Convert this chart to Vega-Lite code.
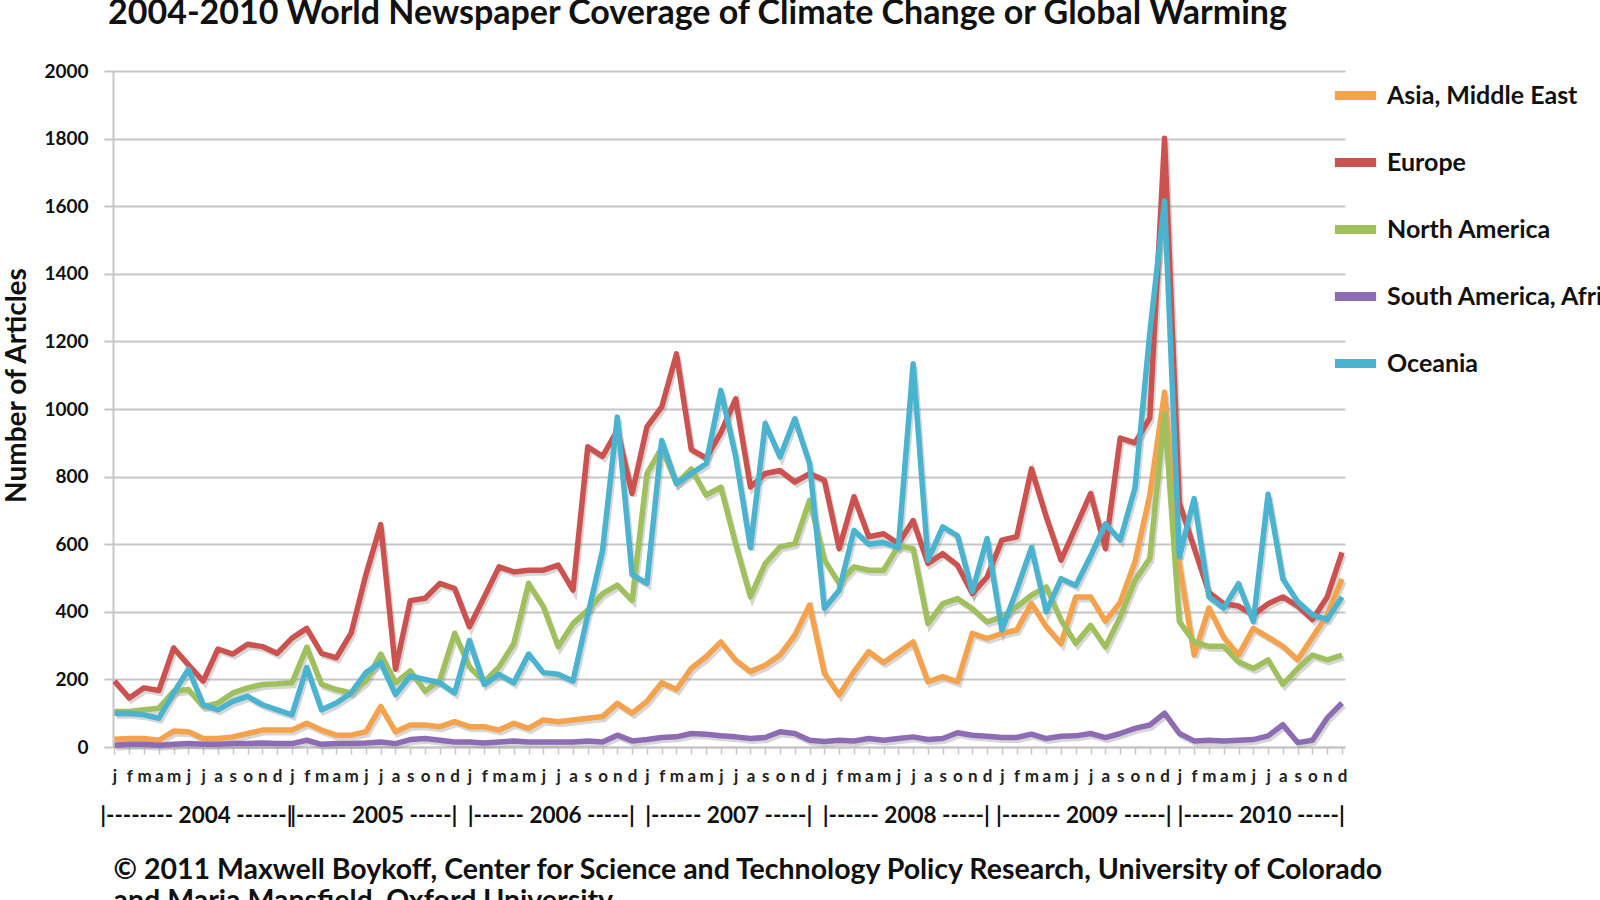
{
"$schema": "https://vega.github.io/schema/vega-lite/v6.json",
"width": 1232, "height": 676,
"autosize": {"type": "none"},
"padding": {"left": 113, "top": 71, "right": 255, "bottom": 153},
"background": "white",
"title": {"text": "2004-2010 World Newspaper Coverage of Climate Change or Global Warming", "anchor": "start", "font": "Lato", "fontSize": 34, "fontWeight": "bold", "color": "#111111", "offset": 31, "dx": 105},
"config": {"view": {"stroke": null}, "font": "Lato"},
"data": {"values": [
{"region":"Asia, Middle East","month":0,"articles":23},{"region":"Asia, Middle East","month":1,"articles":25},{"region":"Asia, Middle East","month":2,"articles":25},{"region":"Asia, Middle East","month":3,"articles":20},{"region":"Asia, Middle East","month":4,"articles":47},{"region":"Asia, Middle East","month":5,"articles":45},{"region":"Asia, Middle East","month":6,"articles":25},{"region":"Asia, Middle East","month":7,"articles":25},{"region":"Asia, Middle East","month":8,"articles":30},{"region":"Asia, Middle East","month":9,"articles":40},{"region":"Asia, Middle East","month":10,"articles":50},{"region":"Asia, Middle East","month":11,"articles":50},
{"region":"Asia, Middle East","month":12,"articles":50},{"region":"Asia, Middle East","month":13,"articles":70},{"region":"Asia, Middle East","month":14,"articles":50},{"region":"Asia, Middle East","month":15,"articles":35},{"region":"Asia, Middle East","month":16,"articles":35},{"region":"Asia, Middle East","month":17,"articles":45},{"region":"Asia, Middle East","month":18,"articles":120},{"region":"Asia, Middle East","month":19,"articles":45},{"region":"Asia, Middle East","month":20,"articles":65},{"region":"Asia, Middle East","month":21,"articles":65},{"region":"Asia, Middle East","month":22,"articles":60},{"region":"Asia, Middle East","month":23,"articles":75},
{"region":"Asia, Middle East","month":24,"articles":60},{"region":"Asia, Middle East","month":25,"articles":60},{"region":"Asia, Middle East","month":26,"articles":50},{"region":"Asia, Middle East","month":27,"articles":70},{"region":"Asia, Middle East","month":28,"articles":55},{"region":"Asia, Middle East","month":29,"articles":80},{"region":"Asia, Middle East","month":30,"articles":75},{"region":"Asia, Middle East","month":31,"articles":80},{"region":"Asia, Middle East","month":32,"articles":85},{"region":"Asia, Middle East","month":33,"articles":90},{"region":"Asia, Middle East","month":34,"articles":129},{"region":"Asia, Middle East","month":35,"articles":100},
{"region":"Asia, Middle East","month":36,"articles":135},{"region":"Asia, Middle East","month":37,"articles":190},{"region":"Asia, Middle East","month":38,"articles":170},{"region":"Asia, Middle East","month":39,"articles":233},{"region":"Asia, Middle East","month":40,"articles":267},{"region":"Asia, Middle East","month":41,"articles":311},{"region":"Asia, Middle East","month":42,"articles":257},{"region":"Asia, Middle East","month":43,"articles":223},{"region":"Asia, Middle East","month":44,"articles":242},{"region":"Asia, Middle East","month":45,"articles":272},{"region":"Asia, Middle East","month":46,"articles":331},{"region":"Asia, Middle East","month":47,"articles":420},
{"region":"Asia, Middle East","month":48,"articles":218},{"region":"Asia, Middle East","month":49,"articles":154},{"region":"Asia, Middle East","month":50,"articles":223},{"region":"Asia, Middle East","month":51,"articles":282},{"region":"Asia, Middle East","month":52,"articles":250},{"region":"Asia, Middle East","month":53,"articles":280},{"region":"Asia, Middle East","month":54,"articles":311},{"region":"Asia, Middle East","month":55,"articles":193},{"region":"Asia, Middle East","month":56,"articles":208},{"region":"Asia, Middle East","month":57,"articles":193},{"region":"Asia, Middle East","month":58,"articles":336},{"region":"Asia, Middle East","month":59,"articles":321},
{"region":"Asia, Middle East","month":60,"articles":336},{"region":"Asia, Middle East","month":61,"articles":346},{"region":"Asia, Middle East","month":62,"articles":425},{"region":"Asia, Middle East","month":63,"articles":356},{"region":"Asia, Middle East","month":64,"articles":306},{"region":"Asia, Middle East","month":65,"articles":444},{"region":"Asia, Middle East","month":66,"articles":444},{"region":"Asia, Middle East","month":67,"articles":372},{"region":"Asia, Middle East","month":68,"articles":428},{"region":"Asia, Middle East","month":69,"articles":548},{"region":"Asia, Middle East","month":70,"articles":745},{"region":"Asia, Middle East","month":71,"articles":1050},
{"region":"Asia, Middle East","month":72,"articles":540},{"region":"Asia, Middle East","month":73,"articles":272},{"region":"Asia, Middle East","month":74,"articles":411},{"region":"Asia, Middle East","month":75,"articles":325},{"region":"Asia, Middle East","month":76,"articles":272},{"region":"Asia, Middle East","month":77,"articles":351},{"region":"Asia, Middle East","month":78,"articles":325},{"region":"Asia, Middle East","month":79,"articles":298},{"region":"Asia, Middle East","month":80,"articles":258},{"region":"Asia, Middle East","month":81,"articles":325},{"region":"Asia, Middle East","month":82,"articles":391},{"region":"Asia, Middle East","month":83,"articles":497},
{"region":"Europe","month":0,"articles":195},{"region":"Europe","month":1,"articles":145},{"region":"Europe","month":2,"articles":175},{"region":"Europe","month":3,"articles":167},{"region":"Europe","month":4,"articles":293},{"region":"Europe","month":5,"articles":243},{"region":"Europe","month":6,"articles":195},{"region":"Europe","month":7,"articles":290},{"region":"Europe","month":8,"articles":275},{"region":"Europe","month":9,"articles":304},{"region":"Europe","month":10,"articles":297},{"region":"Europe","month":11,"articles":277},
{"region":"Europe","month":12,"articles":322},{"region":"Europe","month":13,"articles":351},{"region":"Europe","month":14,"articles":277},{"region":"Europe","month":15,"articles":264},{"region":"Europe","month":16,"articles":337},{"region":"Europe","month":17,"articles":510},{"region":"Europe","month":18,"articles":658},{"region":"Europe","month":19,"articles":230},{"region":"Europe","month":20,"articles":433},{"region":"Europe","month":21,"articles":440},{"region":"Europe","month":22,"articles":484},{"region":"Europe","month":23,"articles":469},
{"region":"Europe","month":24,"articles":356},{"region":"Europe","month":25,"articles":444},{"region":"Europe","month":26,"articles":533},{"region":"Europe","month":27,"articles":518},{"region":"Europe","month":28,"articles":523},{"region":"Europe","month":29,"articles":523},{"region":"Europe","month":30,"articles":538},{"region":"Europe","month":31,"articles":464},{"region":"Europe","month":32,"articles":888},{"region":"Europe","month":33,"articles":860},{"region":"Europe","month":34,"articles":937},{"region":"Europe","month":35,"articles":750},
{"region":"Europe","month":36,"articles":947},{"region":"Europe","month":37,"articles":1006},{"region":"Europe","month":38,"articles":1163},{"region":"Europe","month":39,"articles":880},{"region":"Europe","month":40,"articles":855},{"region":"Europe","month":41,"articles":930},{"region":"Europe","month":42,"articles":1030},{"region":"Europe","month":43,"articles":769},{"region":"Europe","month":44,"articles":809},{"region":"Europe","month":45,"articles":818},{"region":"Europe","month":46,"articles":784},{"region":"Europe","month":47,"articles":809},
{"region":"Europe","month":48,"articles":789},{"region":"Europe","month":49,"articles":587},{"region":"Europe","month":50,"articles":740},{"region":"Europe","month":51,"articles":622},{"region":"Europe","month":52,"articles":631},{"region":"Europe","month":53,"articles":602},{"region":"Europe","month":54,"articles":670},{"region":"Europe","month":55,"articles":543},{"region":"Europe","month":56,"articles":572},{"region":"Europe","month":57,"articles":538},{"region":"Europe","month":58,"articles":454},{"region":"Europe","month":59,"articles":503},
{"region":"Europe","month":60,"articles":612},{"region":"Europe","month":61,"articles":622},{"region":"Europe","month":62,"articles":823},{"region":"Europe","month":63,"articles":681},{"region":"Europe","month":64,"articles":553},{"region":"Europe","month":65,"articles":651},{"region":"Europe","month":66,"articles":750},{"region":"Europe","month":67,"articles":587},{"region":"Europe","month":68,"articles":914},{"region":"Europe","month":69,"articles":900},{"region":"Europe","month":70,"articles":973},{"region":"Europe","month":71,"articles":1801},
{"region":"Europe","month":72,"articles":722},{"region":"Europe","month":73,"articles":589},{"region":"Europe","month":74,"articles":457},{"region":"Europe","month":75,"articles":424},{"region":"Europe","month":76,"articles":417},{"region":"Europe","month":77,"articles":391},{"region":"Europe","month":78,"articles":424},{"region":"Europe","month":79,"articles":444},{"region":"Europe","month":80,"articles":417},{"region":"Europe","month":81,"articles":377},{"region":"Europe","month":82,"articles":444},{"region":"Europe","month":83,"articles":576},
{"region":"North America","month":0,"articles":105},{"region":"North America","month":1,"articles":105},{"region":"North America","month":2,"articles":110},{"region":"North America","month":3,"articles":115},{"region":"North America","month":4,"articles":165},{"region":"North America","month":5,"articles":170},{"region":"North America","month":6,"articles":120},{"region":"North America","month":7,"articles":130},{"region":"North America","month":8,"articles":160},{"region":"North America","month":9,"articles":175},{"region":"North America","month":10,"articles":185},{"region":"North America","month":11,"articles":187},
{"region":"North America","month":12,"articles":190},{"region":"North America","month":13,"articles":295},{"region":"North America","month":14,"articles":185},{"region":"North America","month":15,"articles":170},{"region":"North America","month":16,"articles":160},{"region":"North America","month":17,"articles":195},{"region":"North America","month":18,"articles":275},{"region":"North America","month":19,"articles":190},{"region":"North America","month":20,"articles":225},{"region":"North America","month":21,"articles":165},{"region":"North America","month":22,"articles":198},{"region":"North America","month":23,"articles":336},
{"region":"North America","month":24,"articles":237},{"region":"North America","month":25,"articles":193},{"region":"North America","month":26,"articles":237},{"region":"North America","month":27,"articles":306},{"region":"North America","month":28,"articles":484},{"region":"North America","month":29,"articles":415},{"region":"North America","month":30,"articles":297},{"region":"North America","month":31,"articles":365},{"region":"North America","month":32,"articles":405},{"region":"North America","month":33,"articles":454},{"region":"North America","month":34,"articles":479},{"region":"North America","month":35,"articles":434},
{"region":"North America","month":36,"articles":809},{"region":"North America","month":37,"articles":885},{"region":"North America","month":38,"articles":779},{"region":"North America","month":39,"articles":823},{"region":"North America","month":40,"articles":745},{"region":"North America","month":41,"articles":769},{"region":"North America","month":42,"articles":600},{"region":"North America","month":43,"articles":444},{"region":"North America","month":44,"articles":543},{"region":"North America","month":45,"articles":592},{"region":"North America","month":46,"articles":602},{"region":"North America","month":47,"articles":730},
{"region":"North America","month":48,"articles":553},{"region":"North America","month":49,"articles":484},{"region":"North America","month":50,"articles":533},{"region":"North America","month":51,"articles":523},{"region":"North America","month":52,"articles":523},{"region":"North America","month":53,"articles":595},{"region":"North America","month":54,"articles":587},{"region":"North America","month":55,"articles":365},{"region":"North America","month":56,"articles":424},{"region":"North America","month":57,"articles":439},{"region":"North America","month":58,"articles":410},{"region":"North America","month":59,"articles":370},
{"region":"North America","month":60,"articles":385},{"region":"North America","month":61,"articles":415},{"region":"North America","month":62,"articles":449},{"region":"North America","month":63,"articles":474},{"region":"North America","month":64,"articles":375},{"region":"North America","month":65,"articles":306},{"region":"North America","month":66,"articles":360},{"region":"North America","month":67,"articles":296},{"region":"North America","month":68,"articles":385},{"region":"North America","month":69,"articles":493},{"region":"North America","month":70,"articles":558},{"region":"North America","month":71,"articles":987},
{"region":"North America","month":72,"articles":371},{"region":"North America","month":73,"articles":311},{"region":"North America","month":74,"articles":298},{"region":"North America","month":75,"articles":298},{"region":"North America","month":76,"articles":252},{"region":"North America","month":77,"articles":232},{"region":"North America","month":78,"articles":258},{"region":"North America","month":79,"articles":185},{"region":"North America","month":80,"articles":232},{"region":"North America","month":81,"articles":272},{"region":"North America","month":82,"articles":258},{"region":"North America","month":83,"articles":272},
{"region":"South America, Africa","month":0,"articles":5},{"region":"South America, Africa","month":1,"articles":8},{"region":"South America, Africa","month":2,"articles":8},{"region":"South America, Africa","month":3,"articles":5},{"region":"South America, Africa","month":4,"articles":8},{"region":"South America, Africa","month":5,"articles":10},{"region":"South America, Africa","month":6,"articles":8},{"region":"South America, Africa","month":7,"articles":8},{"region":"South America, Africa","month":8,"articles":10},{"region":"South America, Africa","month":9,"articles":10},{"region":"South America, Africa","month":10,"articles":12},{"region":"South America, Africa","month":11,"articles":10},
{"region":"South America, Africa","month":12,"articles":10},{"region":"South America, Africa","month":13,"articles":20},{"region":"South America, Africa","month":14,"articles":8},{"region":"South America, Africa","month":15,"articles":10},{"region":"South America, Africa","month":16,"articles":10},{"region":"South America, Africa","month":17,"articles":12},{"region":"South America, Africa","month":18,"articles":15},{"region":"South America, Africa","month":19,"articles":10},{"region":"South America, Africa","month":20,"articles":22},{"region":"South America, Africa","month":21,"articles":25},{"region":"South America, Africa","month":22,"articles":20},{"region":"South America, Africa","month":23,"articles":15},
{"region":"South America, Africa","month":24,"articles":15},{"region":"South America, Africa","month":25,"articles":12},{"region":"South America, Africa","month":26,"articles":15},{"region":"South America, Africa","month":27,"articles":18},{"region":"South America, Africa","month":28,"articles":15},{"region":"South America, Africa","month":29,"articles":15},{"region":"South America, Africa","month":30,"articles":15},{"region":"South America, Africa","month":31,"articles":15},{"region":"South America, Africa","month":32,"articles":18},{"region":"South America, Africa","month":33,"articles":15},{"region":"South America, Africa","month":34,"articles":35},{"region":"South America, Africa","month":35,"articles":18},
{"region":"South America, Africa","month":36,"articles":22},{"region":"South America, Africa","month":37,"articles":28},{"region":"South America, Africa","month":38,"articles":30},{"region":"South America, Africa","month":39,"articles":40},{"region":"South America, Africa","month":40,"articles":38},{"region":"South America, Africa","month":41,"articles":33},{"region":"South America, Africa","month":42,"articles":30},{"region":"South America, Africa","month":43,"articles":25},{"region":"South America, Africa","month":44,"articles":28},{"region":"South America, Africa","month":45,"articles":45},{"region":"South America, Africa","month":46,"articles":40},{"region":"South America, Africa","month":47,"articles":20},
{"region":"South America, Africa","month":48,"articles":16},{"region":"South America, Africa","month":49,"articles":20},{"region":"South America, Africa","month":50,"articles":18},{"region":"South America, Africa","month":51,"articles":25},{"region":"South America, Africa","month":52,"articles":20},{"region":"South America, Africa","month":53,"articles":25},{"region":"South America, Africa","month":54,"articles":30},{"region":"South America, Africa","month":55,"articles":22},{"region":"South America, Africa","month":56,"articles":25},{"region":"South America, Africa","month":57,"articles":42},{"region":"South America, Africa","month":58,"articles":35},{"region":"South America, Africa","month":59,"articles":32},
{"region":"South America, Africa","month":60,"articles":28},{"region":"South America, Africa","month":61,"articles":28},{"region":"South America, Africa","month":62,"articles":38},{"region":"South America, Africa","month":63,"articles":25},{"region":"South America, Africa","month":64,"articles":32},{"region":"South America, Africa","month":65,"articles":33},{"region":"South America, Africa","month":66,"articles":40},{"region":"South America, Africa","month":67,"articles":28},{"region":"South America, Africa","month":68,"articles":40},{"region":"South America, Africa","month":69,"articles":55},{"region":"South America, Africa","month":70,"articles":65},{"region":"South America, Africa","month":71,"articles":100},
{"region":"South America, Africa","month":72,"articles":40},{"region":"South America, Africa","month":73,"articles":18},{"region":"South America, Africa","month":74,"articles":20},{"region":"South America, Africa","month":75,"articles":18},{"region":"South America, Africa","month":76,"articles":20},{"region":"South America, Africa","month":77,"articles":22},{"region":"South America, Africa","month":78,"articles":33},{"region":"South America, Africa","month":79,"articles":66},{"region":"South America, Africa","month":80,"articles":13},{"region":"South America, Africa","month":81,"articles":20},{"region":"South America, Africa","month":82,"articles":86},{"region":"South America, Africa","month":83,"articles":130},
{"region":"Oceania","month":0,"articles":100},{"region":"Oceania","month":1,"articles":100},{"region":"Oceania","month":2,"articles":95},{"region":"Oceania","month":3,"articles":85},{"region":"Oceania","month":4,"articles":160},{"region":"Oceania","month":5,"articles":230},{"region":"Oceania","month":6,"articles":125},{"region":"Oceania","month":7,"articles":110},{"region":"Oceania","month":8,"articles":135},{"region":"Oceania","month":9,"articles":150},{"region":"Oceania","month":10,"articles":125},{"region":"Oceania","month":11,"articles":110},
{"region":"Oceania","month":12,"articles":95},{"region":"Oceania","month":13,"articles":235},{"region":"Oceania","month":14,"articles":110},{"region":"Oceania","month":15,"articles":130},{"region":"Oceania","month":16,"articles":160},{"region":"Oceania","month":17,"articles":220},{"region":"Oceania","month":18,"articles":250},{"region":"Oceania","month":19,"articles":155},{"region":"Oceania","month":20,"articles":210},{"region":"Oceania","month":21,"articles":200},{"region":"Oceania","month":22,"articles":190},{"region":"Oceania","month":23,"articles":160},
{"region":"Oceania","month":24,"articles":315},{"region":"Oceania","month":25,"articles":185},{"region":"Oceania","month":26,"articles":215},{"region":"Oceania","month":27,"articles":190},{"region":"Oceania","month":28,"articles":275},{"region":"Oceania","month":29,"articles":220},{"region":"Oceania","month":30,"articles":215},{"region":"Oceania","month":31,"articles":195},{"region":"Oceania","month":32,"articles":390},{"region":"Oceania","month":33,"articles":582},{"region":"Oceania","month":34,"articles":976},{"region":"Oceania","month":35,"articles":510},
{"region":"Oceania","month":36,"articles":484},{"region":"Oceania","month":37,"articles":907},{"region":"Oceania","month":38,"articles":779},{"region":"Oceania","month":39,"articles":809},{"region":"Oceania","month":40,"articles":838},{"region":"Oceania","month":41,"articles":1055},{"region":"Oceania","month":42,"articles":860},{"region":"Oceania","month":43,"articles":590},{"region":"Oceania","month":44,"articles":957},{"region":"Oceania","month":45,"articles":858},{"region":"Oceania","month":46,"articles":971},{"region":"Oceania","month":47,"articles":838},
{"region":"Oceania","month":48,"articles":410},{"region":"Oceania","month":49,"articles":464},{"region":"Oceania","month":50,"articles":641},{"region":"Oceania","month":51,"articles":600},{"region":"Oceania","month":52,"articles":605},{"region":"Oceania","month":53,"articles":590},{"region":"Oceania","month":54,"articles":1134},{"region":"Oceania","month":55,"articles":553},{"region":"Oceania","month":56,"articles":651},{"region":"Oceania","month":57,"articles":625},{"region":"Oceania","month":58,"articles":460},{"region":"Oceania","month":59,"articles":617},
{"region":"Oceania","month":60,"articles":346},{"region":"Oceania","month":61,"articles":464},{"region":"Oceania","month":62,"articles":590},{"region":"Oceania","month":63,"articles":400},{"region":"Oceania","month":64,"articles":498},{"region":"Oceania","month":65,"articles":478},{"region":"Oceania","month":66,"articles":565},{"region":"Oceania","month":67,"articles":660},{"region":"Oceania","month":68,"articles":612},{"region":"Oceania","month":69,"articles":766},{"region":"Oceania","month":70,"articles":1225},{"region":"Oceania","month":71,"articles":1616},
{"region":"Oceania","month":72,"articles":563},{"region":"Oceania","month":73,"articles":735},{"region":"Oceania","month":74,"articles":444},{"region":"Oceania","month":75,"articles":411},{"region":"Oceania","month":76,"articles":483},{"region":"Oceania","month":77,"articles":371},{"region":"Oceania","month":78,"articles":748},{"region":"Oceania","month":79,"articles":497},{"region":"Oceania","month":80,"articles":430},{"region":"Oceania","month":81,"articles":391},{"region":"Oceania","month":82,"articles":377},{"region":"Oceania","month":83,"articles":444}
]},
"layer": [
{
"mark": {"type": "line", "color": "#777777", "opacity": 0.3, "strokeWidth": 5, "xOffset": 2, "yOffset": 3},
"encoding": {
"x": {"field": "month", "type": "quantitative", "scale": {"domain": [-0.1, 83.2], "nice": false, "zero": false},
"axis": {"orient": "bottom", "offset": 57, "values": [5.5, 17.5, 29.5, 41.5, 53.5, 65.5, 77.5], "labelExpr": "['|-------- 2004 ------|','|------ 2005 -----|','|------ 2006 -----|','|------ 2007 -----|','|------ 2008 -----|','|------- 2009 -----|','|------ 2010 -----|'][floor(datum.value / 12)]", "domain": false, "ticks": false, "tickSize": 0, "grid": false, "labelPadding": 0, "labelFont": "Lato", "labelFontSize": 22.5, "labelFontWeight": "bold", "labelColor": "#111111", "labelOverlap": false, "labelFlush": false, "labelBound": false, "labelLimit": 0,
"title": ["© 2011 Maxwell Boykoff, Center for Science and Technology Policy Research, University of Colorado", "and Maria Mansfield, Oxford University"], "titleAnchor": "start", "titleAlign": "left", "titleFont": "Lato", "titleFontSize": 28.5, "titleFontWeight": "bold", "titleColor": "#111111", "titlePadding": 29, "titleLineHeight": 31, "titleLimit": 0}},
"y": {"field": "articles", "type": "quantitative", "scale": {"domain": [0, 2000], "nice": false},
"axis": {"values": [0,200,400,600,800,1000,1200,1400,1600,1800,2000], "format": "d", "grid": true, "gridColor": "#c6c6c6", "gridWidth": 2, "domainColor": "#c6c6c6", "domainWidth": 2, "tickColor": "#c6c6c6", "tickWidth": 2, "tickSize": 9, "labelPadding": 16, "labelFont": "Lato", "labelFontSize": 19, "labelFontWeight": "bold", "labelColor": "#111111", "title": "Number of Articles", "titleFont": "Lato", "titleFontSize": 28, "titleFontWeight": "bold", "titleColor": "#111111", "titleAngle": 270, "titleBaseline": "top", "titleAlign": "center", "titleX": -110, "titleY": 314}},
"detail": {"field": "region", "type": "nominal"}
}
},
{
"mark": {"type": "line", "strokeWidth": 5.5, "strokeJoin": "round"},
"encoding": {
"x": {"field": "month", "type": "quantitative", "scale": {"domain": [-0.1, 83.2], "nice": false, "zero": false},
"axis": {"orient": "bottom", "values": [0,1,2,3,4,5,6,7,8,9,10,11,12,13,14,15,16,17,18,19,20,21,22,23,24,25,26,27,28,29,30,31,32,33,34,35,36,37,38,39,40,41,42,43,44,45,46,47,48,49,50,51,52,53,54,55,56,57,58,59,60,61,62,63,64,65,66,67,68,69,70,71,72,73,74,75,76,77,78,79,80,81,82,83], "labelExpr": "['j','f','m','a','m','j','j','a','s','o','n','d'][datum.value % 12]", "grid": false, "domainColor": "#c6c6c6", "domainWidth": 2, "tickColor": "#c6c6c6", "tickWidth": 1.5, "tickSize": 7, "labelPadding": 14, "labelFont": "Lato", "labelFontSize": 17, "labelFontWeight": "bold", "labelColor": "#222222", "labelOverlap": false, "labelFlush": false, "labelBound": false, "title": null}},
"y": {"field": "articles", "type": "quantitative", "scale": {"domain": [0, 2000], "nice": false},
"axis": {"values": [0,200,400,600,800,1000,1200,1400,1600,1800,2000], "format": "d", "grid": true, "gridColor": "#c6c6c6", "gridWidth": 2, "domainColor": "#c6c6c6", "domainWidth": 2, "tickColor": "#c6c6c6", "tickWidth": 2, "tickSize": 9, "labelPadding": 16, "labelFont": "Lato", "labelFontSize": 19, "labelFontWeight": "bold", "labelColor": "#111111", "title": "Number of Articles", "titleFont": "Lato", "titleFontSize": 28, "titleFontWeight": "bold", "titleColor": "#111111", "titleAngle": 270, "titleBaseline": "top", "titleAlign": "center", "titleX": -110, "titleY": 314}},
"color": {"field": "region", "type": "nominal",
"scale": {"domain": ["Asia, Middle East", "Europe", "North America", "South America, Africa", "Oceania"], "range": ["#F5A24C", "#CB524F", "#A0C05E", "#8E6CB4", "#4AB3CF"]},
"legend": {"orient": "none", "legendX": 1217, "legendY": -1, "title": null, "symbolType": "stroke", "symbolStrokeWidth": 9, "symbolSize": 1700, "rowPadding": 23, "labelOffset": 6, "labelFont": "Lato", "labelFontSize": 25, "labelFontWeight": "bold", "labelColor": "#111111", "labelLimit": 400, "padding": 0}}
}
}
],
"resolve": {"axis": {"x": "independent"}, "scale": {"x": "shared"}}
}
